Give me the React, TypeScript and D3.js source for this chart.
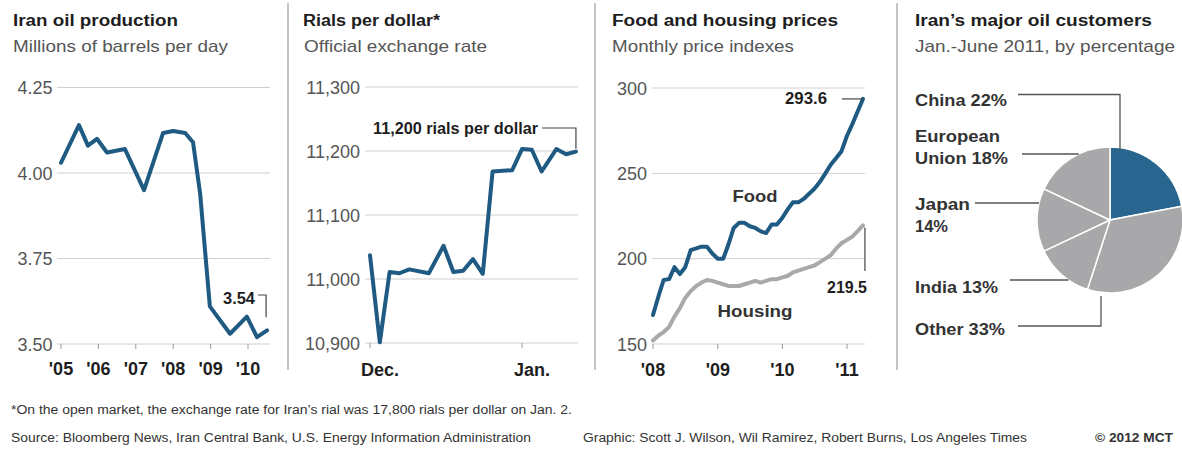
import React from 'react';
import * as d3 from 'd3';

// ---------- Data ----------
const oilYears = [2005.0, 2005.48, 2005.72, 2005.96, 2006.23, 2006.71, 2007.22, 2007.73, 2008.0, 2008.32, 2008.53, 2008.72, 2008.98, 2009.52, 2009.97, 2010.24, 2010.51];
const oilValues = [4.03, 4.14, 4.08, 4.1, 4.06, 4.07, 3.95, 4.117, 4.123, 4.117, 4.09, 3.94, 3.61, 3.53, 3.58, 3.52, 3.54];
const oilYTicks = [3.5, 3.75, 4.0, 4.25];
const oilXTicks = [2005, 2006, 2007, 2008, 2009, 2010];
const oilXLabels = ["'05", "'06", "'07", "'08", "'09", "'10"];

const rialDates = ['2011-12-01', '2011-12-03', '2011-12-05', '2011-12-07', '2011-12-09', '2011-12-13', '2011-12-16', '2011-12-18', '2011-12-20', '2011-12-22', '2011-12-24', '2011-12-26', '2011-12-30', '2012-01-01', '2012-01-03', '2012-01-05', '2012-01-08', '2012-01-10', '2012-01-12'];
const rialValues = [11037, 10901, 11011, 11009, 11015, 11009, 11052, 11011, 11013, 11031, 11008, 11168, 11170, 11203, 11202, 11168, 11203, 11195, 11199];
const rialYTicks = [10900, 11000, 11100, 11200, 11300];
const rialXTicks = ['2011-12-01', '2012-01-01'];
const rialXLabels = ['Dec.', 'Jan.'];

const priceMonths = d3.utcMonth.range(new Date(Date.UTC(2008, 0, 1)), new Date(Date.UTC(2011, 3, 2)));
const foodValues = [167, 178, 187.5, 188, 195, 191, 195, 205, 206, 207, 207, 203, 200, 200, 208, 218, 221, 221, 219, 218, 216, 215, 220, 220, 224, 229, 233, 233, 235, 238, 241, 245, 250, 255, 259, 263, 272, 279, 286, 293.6];
const housingValues = [152, 155, 157, 160, 166, 171, 177, 181, 184, 186, 187.5, 187, 186, 185, 184, 184, 184, 185, 186, 187, 186, 187, 188, 188, 189, 190, 192, 193, 194, 195, 196, 198, 200, 202, 206, 209, 211, 213, 216, 219.5];
const priceYTicks = [150, 200, 250, 300];
const priceXTicks = [2008, 2009, 2010, 2011];
const priceXLabels = ["'08", "'09", "'10", "'11"];

const customers = ['China', 'Other', 'India', 'Japan', 'European Union'];
const customerShares = [22, 33, 13, 14, 18];

// ---------- Styles ----------
const FONT = "'Liberation Sans', Arial, Helvetica, sans-serif";
const BLUE = '#1f5a82';
const GRAY_LINE = '#a9a9a9';
const GRID = '#cfcfcf';
const DARK = '#1e1e1e';
const MID = '#555';
const LW = 4;

function Txt({ x, y, children, size = 16, weight = 400, fill = DARK, anchor = 'start', len }: any) {
  return (
    <text
      x={x}
      y={y}
      fontSize={size}
      fontWeight={weight}
      fill={fill}
      textAnchor={anchor}
      fontFamily={FONT}
      textLength={len}
      lengthAdjust={len ? 'spacingAndGlyphs' : undefined}
    >
      {children}
    </text>
  );
}

export default function App() {
  // Panel 1
  const x1 = d3.scaleLinear().domain([2005, 2010]).range([61, 248]);
  const y1 = d3.scaleLinear().domain([3.5, 4.25]).range([344, 87.5]);
  const oilLine = d3.line<number>().x((_, i) => x1(oilYears[i])).y((d) => y1(d))(oilValues) || '';
  const oilLastX = x1(oilYears[oilYears.length - 1]);
  const oilLastY = y1(oilValues[oilValues.length - 1]);

  // Panel 2
  const x2 = d3.scaleUtc().domain([new Date('2011-12-01'), new Date('2012-01-01')]).range([370, 522]);
  const y2 = d3.scaleLinear().domain([10900, 11300]).range([343, 87]);
  const rialLine = d3.line<number>().x((_, i) => x2(new Date(rialDates[i]))).y((d) => y2(d))(rialValues) || '';
  const rialLastX = x2(new Date(rialDates[rialDates.length - 1]));
  const rialLastY = y2(rialValues[rialValues.length - 1]);

  // Panel 3
  const x3 = d3.scaleUtc().domain([new Date(Date.UTC(2008, 0, 1)), new Date(Date.UTC(2011, 0, 1))]).range([653, 847]);
  const y3 = d3.scaleLinear().domain([150, 300]).range([344, 88]);
  const foodLine = d3.line<number>().x((_, i) => x3(priceMonths[i])).y((d) => y3(d))(foodValues) || '';
  const housingLine = d3.line<number>().x((_, i) => x3(priceMonths[i])).y((d) => y3(d))(housingValues) || '';
  const pLastX = x3(priceMonths[foodValues.length - 1]);
  const foodLastY = y3(foodValues[foodValues.length - 1]);
  const housingLastY = y3(housingValues[housingValues.length - 1]);

  // Panel 4
  const cx = 1110, cy = 220, r = 73;
  const pie = d3.pie<number>().sort(null).startAngle(0).endAngle(2 * Math.PI)(customerShares);
  const arc = d3.arc<d3.PieArcDatum<number>>().innerRadius(0).outerRadius(r);
  const edgeX = (y: number) => cx - Math.sqrt(Math.max(0, r * r - (y - cy) * (y - cy)));

  return (
    <svg width={1182} height={449} style={{ position: 'absolute', left: 0, top: 0, background: '#fff' }}>
      <rect width={1182} height={449} fill="#fff" />

      {/* Dividers */}
      {[288, 595, 897].map((x) => (
        <line key={x} x1={x} x2={x} y1={3} y2={370} stroke="#c4c4c4" strokeWidth={2} />
      ))}

      {/* ---------- Panel 1 ---------- */}
      <Txt x={13} y={26} size={16} weight={700} len={165}>Iran oil production</Txt>
      <Txt x={13} y={52} size={17} fill={MID} len={215}>Millions of barrels per day</Txt>
      {oilYTicks.map((t) => (
        <g key={t}>
          <line x1={57} x2={270} y1={y1(t)} y2={y1(t)} stroke={GRID} strokeWidth={1} />
          <Txt x={52.5} y={y1(t) + 6.5} size={18} fill={MID} anchor="end">{d3.format('.2f')(t)}</Txt>
        </g>
      ))}
      {oilXTicks.map((t, i) => (
        <g key={t}>
          <line x1={x1(t)} x2={x1(t)} y1={y1(3.5)} y2={y1(3.5) + 5} stroke="#999" strokeWidth={1} />
          <Txt x={x1(t)} y={375} size={18} weight={700} anchor="middle">{oilXLabels[i]}</Txt>
        </g>
      ))}
      <path d={oilLine} fill="none" stroke={BLUE} strokeWidth={LW} strokeLinejoin="round" strokeLinecap="round" />
      <Txt x={255} y={304} size={16} weight={700} anchor="end" len={32}>3.54</Txt>
      <polyline
        points={`${258},${295} ${oilLastX - 1},${295} ${oilLastX - 1},${oilLastY - 13}`}
        fill="none"
        stroke="#444"
        strokeWidth={1.2}
      />

      {/* ---------- Panel 2 ---------- */}
      <Txt x={303} y={26} size={16} weight={700} len={137}>Rials per dollar*</Txt>
      <Txt x={304} y={52} size={17} fill={MID} len={183}>Official exchange rate</Txt>
      {rialYTicks.map((t) => (
        <g key={t}>
          <line x1={365} x2={578} y1={y2(t)} y2={y2(t)} stroke={GRID} strokeWidth={1} />
          <Txt x={360} y={y2(t) + 6.5} size={18} fill={MID} anchor="end">{d3.format(',')(t)}</Txt>
        </g>
      ))}
      {rialXTicks.map((t, i) => (
        <g key={t}>
          <line x1={x2(new Date(t))} x2={x2(new Date(t))} y1={y2(10900)} y2={y2(10900) + 5} stroke="#999" strokeWidth={1} />
          <Txt x={x2(new Date(t)) + 10} y={376} size={18} weight={700} anchor="middle">{rialXLabels[i]}</Txt>
        </g>
      ))}
      <path d={rialLine} fill="none" stroke={BLUE} strokeWidth={LW} strokeLinejoin="round" strokeLinecap="round" />
      <Txt x={373} y={134} size={16} weight={700} len={165}>11,200 rials per dollar</Txt>
      <polyline
        points={`${542},${128} ${rialLastX},${128} ${rialLastX},${rialLastY - 3}`}
        fill="none"
        stroke="#444"
        strokeWidth={1.2}
      />

      {/* ---------- Panel 3 ---------- */}
      <Txt x={612} y={26} size={16} weight={700} len={226}>Food and housing prices</Txt>
      <Txt x={612} y={52} size={17} fill={MID} len={182}>Monthly price indexes</Txt>
      {priceYTicks.map((t) => (
        <g key={t}>
          <line x1={652} x2={865} y1={y3(t)} y2={y3(t)} stroke={GRID} strokeWidth={1} />
          <Txt x={647} y={y3(t) + 6.5} size={18} fill={MID} anchor="end">{t}</Txt>
        </g>
      ))}
      {priceXTicks.map((t, i) => {
        const xx = x3(new Date(Date.UTC(t, 0, 1)));
        return (
          <g key={t}>
            <line x1={xx} x2={xx} y1={y3(150)} y2={y3(150) + 5} stroke="#999" strokeWidth={1} />
            <Txt x={xx} y={376} size={18} weight={700} anchor="middle">{priceXLabels[i]}</Txt>
          </g>
        );
      })}
      <path d={housingLine} fill="none" stroke={GRAY_LINE} strokeWidth={LW} strokeLinejoin="round" strokeLinecap="round" />
      <path d={foodLine} fill="none" stroke={BLUE} strokeWidth={LW} strokeLinejoin="round" strokeLinecap="round" />
      <Txt x={755} y={202} size={17} weight={700} fill="#333" anchor="middle" len={45}>Food</Txt>
      <Txt x={755} y={317} size={17} weight={700} fill="#333" anchor="middle" len={75}>Housing</Txt>
      <Txt x={827} y={104} size={16} weight={700} anchor="end" len={42}>293.6</Txt>
      <line x1={842} x2={pLastX} y1={foodLastY} y2={foodLastY} stroke="#444" strokeWidth={1.2} />
      <Txt x={867} y={293} size={16} weight={700} anchor="end" len={40}>219.5</Txt>
      <line x1={pLastX + 2} x2={pLastX + 2} y1={housingLastY + 2} y2={271} stroke="#444" strokeWidth={1.2} />

      {/* ---------- Panel 4 ---------- */}
      <Txt x={915} y={26} size={16} weight={700} len={237}>Iran’s major oil customers</Txt>
      <Txt x={915} y={52} size={17} fill={MID} len={260}>Jan.-June 2011, by percentage</Txt>
      <g transform={`translate(${cx},${cy})`}>
        {pie.map((p, i) => (
          <path
            key={customers[i]}
            d={arc(p) || ''}
            fill={i === 0 ? '#28658f' : '#a8a8aa'}
            stroke="#fff"
            strokeWidth={1.5}
          />
        ))}
      </g>
      {/* Leaders */}
      <polyline points={`1018,94.5 1120,94.5 1120,150`} fill="none" stroke="#555" strokeWidth={1.3} />
      <line x1={1022} x2={edgeX(154)} y1={154} y2={154} stroke="#555" strokeWidth={1.3} />
      <line x1={975} x2={edgeX(203)} y1={203} y2={203} stroke="#555" strokeWidth={1.3} />
      <line x1={1010} x2={edgeX(280)} y1={280} y2={280} stroke="#555" strokeWidth={1.3} />
      <polyline points={`1018,326 1101,326 1101,296`} fill="none" stroke="#555" strokeWidth={1.3} />
      <Txt x={915} y={106} size={16} weight={700} fill="#333" len={92}>China 22%</Txt>
      <Txt x={915} y={142} size={16} weight={700} fill="#333" len={85}>European</Txt>
      <Txt x={915} y={164} size={16} weight={700} fill="#333" len={93}>Union 18%</Txt>
      <Txt x={915} y={210} size={16} weight={700} fill="#333" len={55}>Japan</Txt>
      <Txt x={915} y={232} size={16} weight={700} fill="#333" len={33}>14%</Txt>
      <Txt x={915} y={293} size={16} weight={700} fill="#333" len={83}>India 13%</Txt>
      <Txt x={915} y={335} size={16} weight={700} fill="#333" len={90}>Other 33%</Txt>

      {/* ---------- Footer ---------- */}
      <Txt x={11} y={414} size={12} fill="#333" len={561}>*On the open market, the exchange rate for Iran’s rial was 17,800 rials per dollar on Jan. 2.</Txt>
      <Txt x={11} y={442} size={12} fill="#333" len={520}>Source: Bloomberg News, Iran Central Bank, U.S. Energy Information Administration</Txt>
      <Txt x={583} y={442} size={12} fill="#333" len={444}>Graphic: Scott J. Wilson, Wil Ramirez, Robert Burns, Los Angeles Times</Txt>
      <Txt x={1095} y={442} size={12} weight={700} fill="#333" len={78}>© 2012 MCT</Txt>
    </svg>
  );
}
